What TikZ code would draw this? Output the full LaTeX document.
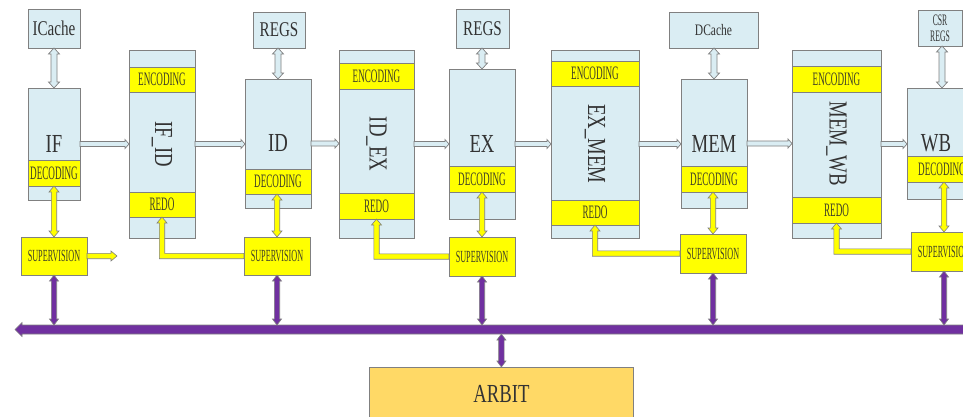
\documentclass[tikz,border=0pt]{standalone}
\usepackage{fontspec}
\setmainfont{Liberation Serif}
\newfontfamily\bigf[FakeStretch=0.72]{Liberation Serif}
\newfontfamily\smallf[FakeStretch=0.48]{Liberation Serif}
\usetikzlibrary{calc}

\definecolor{boxblue}{RGB}{218,237,243}
\definecolor{edge}{RGB}{128,128,128}
\definecolor{hiyel}{RGB}{255,255,0}
\definecolor{busvio}{RGB}{112,48,160}
\definecolor{arbfill}{RGB}{255,217,102}
\definecolor{ink}{RGB}{51,51,51}
\definecolor{bandink}{RGB}{64,64,40}

\tikzset{
  stagebox/.style={draw=edge, fill=boxblue, line width=0.8pt, inner sep=0pt,
    outer sep=0pt, anchor=north west},
  band/.style={draw=edge, fill=hiyel, line width=0.8pt, inner sep=0pt,
    outer sep=0pt, anchor=north west, text=bandink,
    font=\smallf\fontsize{19}{19}\selectfont},
  supbox/.style={draw=edge, fill=hiyel, line width=0.8pt, inner sep=0pt,
    outer sep=0pt, anchor=north west, text=bandink,
    font=\smallf\fontsize{17}{17}\selectfont},
  biglabel/.style={font=\bigf\fontsize{26}{26}\selectfont, text=ink, inner sep=0pt},
  cachelabel/.style={font=\bigf\fontsize{21}{21}\selectfont, text=ink},
  bluearrow/.style={draw=edge, fill=boxblue, line width=0.7pt},
  yelarrow/.style={draw=edge, fill=hiyel, line width=0.6pt},
  purarrow/.style={draw=edge, fill=busvio, line width=0.6pt},
}

% vertical double-headed block arrow: #2 upper end, #3 lower end (x taken from #3)
% #4 shaft half width, #5 head half width, #6 head length
\newcommand\vdarr[6]{%
  \path[#1] let \p1=(#2), \p2=(#3) in
    (\x2,\y1) -- ({\x2+#5},{\y1-#6}) -- ({\x2+#4},{\y1-#6}) -- ({\x2+#4},{\y2+#6})
    -- ({\x2+#5},{\y2+#6}) -- (\x2,\y2) -- ({\x2-#5},{\y2+#6}) -- ({\x2-#4},{\y2+#6})
    -- ({\x2-#4},{\y1-#6}) -- ({\x2-#5},{\y1-#6}) -- cycle;}
% horizontal single-headed block arrow from #2 to #3 (y taken from #2);
% a negative head length points the arrow to the left
\newcommand\harr[6]{%
  \path[#1] let \p1=(#2), \p2=(#3) in
    (\x1,{\y1+#4}) -- ({\x2-(#6)},{\y1+#4}) -- ({\x2-(#6)},{\y1+#5}) -- (\x2,\y1)
    -- ({\x2-(#6)},{\y1-#5}) -- ({\x2-(#6)},{\y1-#4}) -- (\x1,{\y1-#4}) -- cycle;}
% elbow block arrow: left from #2, then up to the tip at #3
\newcommand\elarr[6]{%
  \path[#1] let \p1=(#2), \p2=(#3) in
    (\x1,{\y1+#4}) -- ({\x2+#4},{\y1+#4}) -- ({\x2+#4},{\y2-#6}) -- ({\x2+#5},{\y2-#6})
    -- (\x2,\y2) -- ({\x2-#5},{\y2-#6}) -- ({\x2-#4},{\y2-#6}) -- ({\x2-#4},{\y1-#4})
    -- (\x1,{\y1-#4}) -- cycle;}

\begin{document}
\begin{tikzpicture}[x=1pt, y=-1pt]
\clip (0,0) rectangle (963,416);
\fill[white] (0,0) rectangle (963,416);

% ---- storage boxes ----
\node[stagebox, minimum width=52pt, minimum height=39pt] (icache) at (28,9) {};
\node[cachelabel] at (icache) {ICache};
\node[stagebox, minimum width=52pt, minimum height=36pt] (regsa) at (253,12) {};
\node[cachelabel] at (regsa) {REGS};
\node[stagebox, minimum width=53pt, minimum height=39pt] (regsb) at (456,9) {};
\node[cachelabel] at (regsb) {REGS};
\node[stagebox, minimum width=89pt, minimum height=36pt] (dcache) at (669,12) {};
\node[font=\bigf\fontsize{16}{16}\selectfont, text=ink] at (dcache) {DCache};
\node[stagebox, minimum width=44pt, minimum height=36pt] (csr) at (918,10) {};
\node[align=center, text=ink, font=\smallf\fontsize{16}{16}\selectfont] at (csr) {CSR\\REGS};

% ---- pipeline stages ----
\node[stagebox, minimum width=52pt, minimum height=112pt] (IF) at (28,88) {};
\node[stagebox, minimum width=66pt, minimum height=188pt] (IFID) at (129,50) {};
\node[stagebox, minimum width=66pt, minimum height=129pt] (ID) at (245,79) {};
\node[stagebox, minimum width=75pt, minimum height=188pt] (IDEX) at (339,50) {};
\node[stagebox, minimum width=66pt, minimum height=150pt] (EX) at (449,69) {};
\node[stagebox, minimum width=88pt, minimum height=188pt] (EXMEM) at (551,50) {};
\node[stagebox, minimum width=66pt, minimum height=129pt] (MEM) at (681,79) {};
\node[stagebox, minimum width=89pt, minimum height=188pt] (MEMWB) at (792,50) {};
\node[stagebox, minimum width=70pt, minimum height=111pt] (WB) at (907,88) {};

\node[biglabel] at (IF) {IF};
\node[biglabel, rotate=-90] at (IFID) {IF\_ID};
\node[biglabel] at (ID) {ID};
\node[biglabel, rotate=-90] at (IDEX) {ID\_EX};
\node[biglabel] at (EX) {EX};
\node[biglabel, rotate=-90] at (EXMEM) {EX\_MEM};
\node[biglabel] at (MEM) {MEM};
\node[biglabel, rotate=-90] at (MEMWB) {MEM\_WB};
\node[biglabel] at ($(WB)+(-6,0)$) {WB};

% ---- encoding / decoding / redo bands ----
\node[band, minimum width=52pt, minimum height=26pt] (IFdec) at (28,160) {DECODING};
\node[band, minimum width=66pt, minimum height=25pt] (IFIDenc) at (129,67) {ENCODING};
\node[band, minimum width=66pt, minimum height=25pt] (IFIDredo) at (129,192) {REDO};
\node[band, minimum width=66pt, minimum height=25pt] (IDdec) at (245,169) {DECODING};
\node[band, minimum width=75pt, minimum height=26pt] (IDEXenc) at (339,63) {ENCODING};
\node[band, minimum width=75pt, minimum height=26pt] (IDEXredo) at (339,193) {REDO};
\node[band, minimum width=66pt, minimum height=26pt] (EXdec) at (449,166) {DECODING};
\node[band, minimum width=88pt, minimum height=25pt] (EXMEMenc) at (551,61) {ENCODING};
\node[band, minimum width=88pt, minimum height=25pt] (EXMEMredo) at (551,200) {REDO};
\node[band, minimum width=66pt, minimum height=26pt] (MEMdec) at (681,166) {DECODING};
\node[band, minimum width=89pt, minimum height=26pt] (MEMWBenc) at (792,66) {ENCODING};
\node[band, minimum width=89pt, minimum height=26pt] (MEMWBredo) at (792,197) {REDO};
\node[band, minimum width=70pt, minimum height=26pt] (WBdec) at (907,156) {DECODING};

% ---- supervision units ----
\node[supbox, minimum width=66pt, minimum height=38pt] (S1) at (21,237) {SUPERVISION};
\node[supbox, minimum width=66pt, minimum height=38pt] (S2) at (244,237) {SUPERVISION};
\node[supbox, minimum width=66pt, minimum height=39pt] (S3) at (449,237) {SUPERVISION};
\node[supbox, minimum width=66pt, minimum height=39pt] (S4) at (680,234) {SUPERVISION};
\node[supbox, minimum width=66pt, minimum height=39pt] (S5) at (911,232) {SUPERVISION};

% ---- arbiter and bus ----
\node[draw=edge, fill=arbfill, line width=0.8pt, anchor=north west, inner sep=0pt,
  minimum width=264pt, minimum height=70pt] (arb) at (369,367) {};
\node[font=\bigf\fontsize{26}{26}\selectfont, text=ink] at ($(arb.north)+(0,27)$) {ARBIT};
\coordinate (busR) at (975,329.5);
\coordinate (busL) at (15,329.5);
\coordinate (busTop) at (0,325);
\coordinate (busBot) at (0,334);

% ---- connectors: storage <-> stage ----
\vdarr{bluearrow}{icache.south}{IF.north}{3pt}{5.5pt}{6pt}
\vdarr{bluearrow}{regsa.south}{ID.north}{3pt}{5.5pt}{6pt}
\vdarr{bluearrow}{regsb.south}{EX.north}{3pt}{5.5pt}{6pt}
\vdarr{bluearrow}{dcache.south}{MEM.north}{3pt}{5.5pt}{6pt}
\vdarr{bluearrow}{csr.south}{WB.north}{3pt}{5.5pt}{6pt}

% ---- connectors: stage -> stage ----
\harr{bluearrow}{IF.east}{IFID.west}{2.5pt}{4.5pt}{4pt}
\harr{bluearrow}{IFID.east}{ID.west}{2.5pt}{4.5pt}{4pt}
\harr{bluearrow}{ID.east}{IDEX.west}{2.5pt}{4.5pt}{4pt}
\harr{bluearrow}{IDEX.east}{EX.west}{2.5pt}{4.5pt}{4pt}
\harr{bluearrow}{EX.east}{EXMEM.west}{2.5pt}{4.5pt}{4pt}
\harr{bluearrow}{EXMEM.east}{MEM.west}{2.5pt}{4.5pt}{4pt}
\harr{bluearrow}{MEM.east}{MEMWB.west}{2.5pt}{4.5pt}{4pt}
\harr{bluearrow}{MEMWB.east}{WB.west}{2.5pt}{4.5pt}{4pt}

% ---- connectors: decoding <-> supervision ----
\vdarr{yelarrow}{IFdec.south}{S1.north}{2.7pt}{5pt}{6pt}
\vdarr{yelarrow}{IDdec.south}{S2.north}{2.7pt}{5pt}{6pt}
\vdarr{yelarrow}{EXdec.south}{S3.north}{2.7pt}{5pt}{6pt}
\vdarr{yelarrow}{MEMdec.south}{S4.north}{2.7pt}{5pt}{6pt}
\vdarr{yelarrow}{WBdec.south}{S5.north}{2.7pt}{5pt}{6pt}

% ---- connectors: supervision -> redo ----
\coordinate (S1out) at (117,256);
\harr{yelarrow}{S1.east}{S1out}{2.7pt}{5pt}{6pt}
\elarr{yelarrow}{S2.west}{IFIDredo.south}{2.7pt}{5pt}{6pt}
\elarr{yelarrow}{S3.west}{IDEXredo.south}{2.7pt}{5pt}{6pt}
\elarr{yelarrow}{S4.west}{EXMEMredo.south}{2.7pt}{5pt}{6pt}
\elarr{yelarrow}{S5.west}{MEMWBredo.south}{2.7pt}{5pt}{6pt}

% ---- bus ----
\harr{purarrow}{busR}{busL}{4.5pt}{7pt}{-7pt}
\vdarr{purarrow}{S1.south}{S1.south |- busTop}{2.7pt}{4.5pt}{6pt}
\vdarr{purarrow}{S2.south}{S2.south |- busTop}{2.7pt}{4.5pt}{6pt}
\vdarr{purarrow}{S3.south}{S3.south |- busTop}{2.7pt}{4.5pt}{6pt}
\vdarr{purarrow}{S4.south}{S4.south |- busTop}{2.7pt}{4.5pt}{6pt}
\vdarr{purarrow}{S5.south}{S5.south |- busTop}{2.7pt}{4.5pt}{6pt}
\vdarr{purarrow}{arb.north |- busBot}{arb.north}{2.7pt}{4.5pt}{6pt}
\end{tikzpicture}
\end{document}
